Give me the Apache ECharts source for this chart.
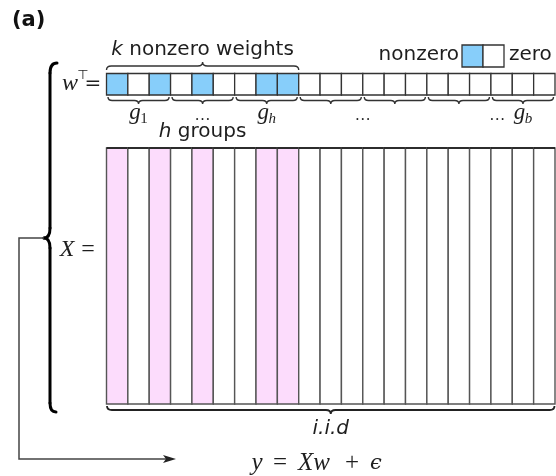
<!DOCTYPE html>
<html><head><meta charset="utf-8">
<script src="https://cdn.jsdelivr.net/npm/echarts@6/dist/echarts.min.js"></script>
<style>html,body{margin:0;padding:0;background:#fff}#c{width:556px;height:476px}</style>
</head><body><div id="c"></div>
<script>
// ---- data ----
const nCols = 21;
const weightNonzero = [1,0,1,0,1,0,0,1,1,0,0,0,0,0,0,0,0,0,0,0,0];
const groupSize = 3;
const groupStarts = [0,3,6,9,12,15,18];
const nonzeroSpan = [0, 9];          // columns covered by the h groups holding k nonzero weights
const labelCols = [1.5, 4.5, 7.5, 12, 18.3, 19.5];
const labelMain = ['g', '…', 'g', '…', '…', 'g'];
const labelSub  = ['1', '',  'h', '',  '',  'b'];
const iidSpan = [0, nCols];

const BLUE = '#87cefa', PINK = '#fcdcfc', INK = '#1e1e1e';
const SANS = 'DejaVu Sans', SERIF = 'Liberation Serif';

function brace(x1, x2, y, d, dir) {
  const h = d / 2, ym = y + h * dir, yt = y + d * dir, xm = (x1 + x2) / 2;
  const r = Math.min(h * 1.2, (x2 - x1) / 4);
  return `M${x1},${y} Q${x1},${ym} ${x1 + r},${ym} L${xm - r},${ym} Q${xm},${ym} ${xm},${yt} ` +
         `Q${xm},${ym} ${xm + r},${ym} L${x2 - r},${ym} Q${x2},${ym} ${x2},${y}`;
}

const braceStroke = {fill: null, stroke: '#000', lineWidth: 3, lineCap: 'round'};

const chart = echarts.init(document.getElementById('c'), null, {renderer: 'canvas'});
const option = {
  animation: false,
  grid: [
    {left: 106.5, top: 73.5, width: 448.5, height: 21.5},
    {left: 106.5, top: 148, width: 448.5, height: 256}
  ],
  xAxis: [
    {gridIndex: 0, type: 'value', min: 0, max: nCols, show: false},
    {gridIndex: 1, type: 'value', min: 0, max: nCols, show: false}
  ],
  yAxis: [
    {gridIndex: 0, type: 'value', min: 0, max: 1, show: false},
    {gridIndex: 1, type: 'value', min: 0, max: 1, show: false}
  ],
  series: [
    { // weight vector cells
      type: 'custom', xAxisIndex: 0, yAxisIndex: 0,
      data: weightNonzero.map((v, i) => [i, v]),
      renderItem(params, api) {
        const i = api.value(0), v = api.value(1);
        const p0 = api.coord([i, 1]), p1 = api.coord([i + 1, 0]);
        return {type: 'rect', shape: {x: p0[0], y: p0[1], width: p1[0] - p0[0], height: p1[1] - p0[1]},
          style: {fill: v ? BLUE : '#fff', stroke: '#333', lineWidth: 1.3}};
      }
    },
    { // X matrix columns
      type: 'custom', xAxisIndex: 1, yAxisIndex: 1,
      data: weightNonzero.map((v, i) => [i, v]),
      renderItem(params, api) {
        const i = api.value(0), v = api.value(1);
        const p0 = api.coord([i, 1]), p1 = api.coord([i + 1, 0]);
        return {type: 'group', children: [
          {type: 'rect', shape: {x: p0[0], y: p0[1], width: p1[0] - p0[0], height: p1[1] - p0[1]},
            style: {fill: v ? PINK : '#fff', stroke: '#555', lineWidth: 1.4}},
          {type: 'line', shape: {x1: p0[0], y1: p0[1], x2: p1[0], y2: p0[1]},
            style: {stroke: '#111', lineWidth: 1.5}}
        ]};
      }
    },
    { // group braces under the weights
      type: 'custom', xAxisIndex: 0, yAxisIndex: 0,
      data: groupStarts.map(s => [s, s + groupSize]),
      renderItem(params, api) {
        const a = api.coord([api.value(0), 0]), b = api.coord([api.value(1), 0]);
        return {type: 'path', shape: {pathData: brace(a[0] + 1.5, b[0] - 1.5, a[1] + 2, 7, 1)},
          style: {fill: null, stroke: '#333', lineWidth: 1.4}};
      }
    },
    { // group labels
      type: 'custom', xAxisIndex: 0, yAxisIndex: 0,
      data: labelCols.map((c, i) => [c, i]),
      renderItem(params, api) {
        const idx = params.dataIndex;
        const p = api.coord([api.value(0), 0]);
        const main = labelMain[idx], sub = labelSub[idx];
        if (!sub) {
          return {type: 'text', style: {text: main, x: p[0], y: p[1] + 21, fill: INK,
            font: `16px "${SERIF}"`, align: 'center', verticalAlign: 'middle'}};
        }
        return {type: 'group', children: [
          {type: 'text', style: {text: main, x: p[0] - 3.5, y: p[1] + 18, fill: INK,
            font: `italic 23px "${SERIF}"`, align: 'center', verticalAlign: 'middle'}},
          {type: 'text', style: {text: sub, x: p[0] + 5.5, y: p[1] + 24, fill: INK,
            font: (sub === '1' ? '' : 'italic ') + `15px "${SERIF}"`, align: 'center', verticalAlign: 'middle'}}
        ]};
      }
    },
    { // k nonzero weights brace + h groups text
      type: 'custom', xAxisIndex: 0, yAxisIndex: 0,
      data: [nonzeroSpan],
      renderItem(params, api) {
        const a = api.coord([api.value(0), 1]), b = api.coord([api.value(1), 1]);
        const xm = (a[0] + b[0]) / 2;
        const a0 = api.coord([api.value(0), 0]);
        return {type: 'group', children: [
          {type: 'path', shape: {pathData: brace(a[0], b[0], a[1] - 3.5, 8, -1)},
            style: {fill: null, stroke: '#333', lineWidth: 1.4}},
          {type: 'text', style: {text: '{i|k} nonzero weights', x: xm, y: a[1] - 24, fill: INK,
            font: `20px "${SANS}"`, align: 'center', verticalAlign: 'middle',
            rich: {i: {fontStyle: 'italic', fontFamily: SANS, fontSize: 20, fill: INK}}}},
          {type: 'text', style: {text: '{i|h} groups', x: xm, y: a0[1] + 37, fill: INK,
            font: `20px "${SANS}"`, align: 'center', verticalAlign: 'middle',
            rich: {i: {fontStyle: 'italic', fontFamily: SANS, fontSize: 20, fill: INK}}}}
        ]};
      }
    },
    { // i.i.d brace under X
      type: 'custom', xAxisIndex: 1, yAxisIndex: 1,
      data: [iidSpan],
      renderItem(params, api) {
        const a = api.coord([api.value(0), 0]), b = api.coord([api.value(1), 0]);
        const xm = (a[0] + b[0]) / 2;
        return {type: 'group', children: [
          {type: 'path', shape: {pathData: brace(a[0] + 0.5, b[0] - 0.5, a[1] + 2, 8, 1)},
            style: {fill: null, stroke: '#222', lineWidth: 1.8}},
          {type: 'text', style: {text: 'i.i.d', x: xm, y: a[1] + 25, fill: INK,
            font: `italic 20px "${SANS}"`, align: 'center', verticalAlign: 'middle'}}
        ]};
      }
    }
  ],
  graphic: [
    {type: 'text', style: {text: '(a)', x: 12, y: 21, fill: '#111', font: `bold 21px "${SANS}"`, verticalAlign: 'middle'}},
    // legend
    {type: 'text', style: {text: 'nonzero', x: 459, y: 55, fill: INK, font: `20px "${SANS}"`, align: 'right', verticalAlign: 'middle'}},
    {type: 'rect', shape: {x: 462, y: 45, width: 21, height: 22}, style: {fill: BLUE, stroke: '#333', lineWidth: 1.3}},
    {type: 'rect', shape: {x: 483, y: 45, width: 21, height: 22}, style: {fill: '#fff', stroke: '#333', lineWidth: 1.3}},
    {type: 'text', style: {text: 'zero', x: 509, y: 55, fill: INK, font: `20px "${SANS}"`, verticalAlign: 'middle'}},
    // w^T =
    {type: 'text', style: {text: 'w', x: 70, y: 84, fill: INK, font: `italic 24px "${SERIF}"`, align: 'center', verticalAlign: 'middle'}},
    {type: 'text', style: {text: '⊤', x: 83, y: 76, fill: INK, font: `13px "${SANS}"`, align: 'center', verticalAlign: 'middle'}},
    {type: 'text', style: {text: '=', x: 93, y: 84, fill: INK, font: `20px "${SANS}"`, align: 'center', verticalAlign: 'middle'}},
    // X =
    {type: 'text', style: {text: 'X', x: 67, y: 250, fill: INK, font: `italic 24px "${SERIF}"`, align: 'center', verticalAlign: 'middle'}},
    {type: 'text', style: {text: '=', x: 88, y: 250, fill: INK, font: `24px "${SERIF}"`, align: 'center', verticalAlign: 'middle'}},
    // big left brace
    {type: 'bezierCurve', shape: {x1: 57, y1: 63, cpx1: 50, cpy1: 63, x2: 50, y2: 73}, style: braceStroke},
    {type: 'line', shape: {x1: 50, y1: 73, x2: 50, y2: 228}, style: braceStroke},
    {type: 'bezierCurve', shape: {x1: 50, y1: 228, cpx1: 50, cpy1: 238, x2: 44, y2: 238}, style: braceStroke},
    {type: 'bezierCurve', shape: {x1: 44, y1: 238, cpx1: 50, cpy1: 238, x2: 50, y2: 248}, style: braceStroke},
    {type: 'line', shape: {x1: 50, y1: 248, x2: 50, y2: 403}, style: braceStroke},
    {type: 'bezierCurve', shape: {x1: 50, y1: 403, cpx1: 50, cpy1: 412, x2: 56, y2: 412}, style: braceStroke},
    // arrow
    {type: 'polyline', shape: {points: [[44, 238], [19, 238], [19, 459], [170, 459]]},
      style: {fill: null, stroke: '#444', lineWidth: 1.5}},
    {type: 'polygon', shape: {points: [[176, 459], [163, 455], [166, 459], [163, 463]]},
      style: {fill: '#222'}},
    // y = Xw + eps
    {type: 'text', style: {text: 'y', x: 257, y: 463, fill: INK, font: `italic 25px "${SERIF}"`, align: 'center', verticalAlign: 'middle'}},
    {type: 'text', style: {text: '=', x: 280, y: 463, fill: INK, font: `25px "${SERIF}"`, align: 'center', verticalAlign: 'middle'}},
    {type: 'text', style: {text: 'Xw', x: 314, y: 463, fill: INK, font: `italic 25px "${SERIF}"`, align: 'center', verticalAlign: 'middle'}},
    {type: 'text', style: {text: '+', x: 352, y: 463, fill: INK, font: `25px "${SERIF}"`, align: 'center', verticalAlign: 'middle'}},
    {type: 'text', style: {text: 'ϵ', x: 376, y: 464, fill: INK, font: `italic 21px "DejaVu Serif"`, align: 'center', verticalAlign: 'middle'}}
  ]
};
chart.setOption(option);
</script></body></html>
